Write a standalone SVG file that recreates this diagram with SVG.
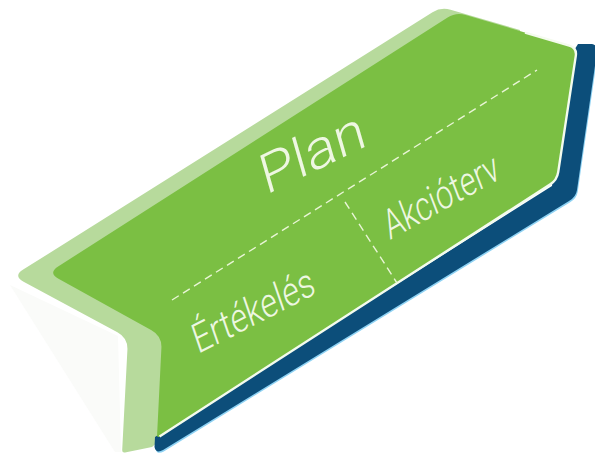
<svg xmlns="http://www.w3.org/2000/svg" width="595" height="455" viewBox="0 0 595 455">
  <style>
    .lbl { font-family: Roboto, "Liberation Sans", Arial, sans-serif; font-weight: 300; fill: #eef7e2; }
    .dash { fill: none; stroke: #e9f5d6; stroke-width: 1.4; stroke-dasharray: 8 5; }
  </style>
  <rect width="595" height="455" fill="#ffffff"/>
  <g id="shadow">
    <path d="M 10,285 L 118,336 L 121,452 L 115,452 Z" fill="#fafbf9"/>
  </g>
  <g id="back-light">
    <path d="M 23.2,269.6 L 432.5,12.3 Q 441,7 450.6,9.8 L 520,30 L 500,200 L 160,440 L 152,447 L 125,452.5 Q 122,453 122.2,450 L 127.4,350 Q 128,338 117.4,332.3 L 23.6,281.7 Q 13,276 23.2,269.6 Z" fill="#b7da9c"/>
  </g>
  <g id="navy-band">
    <path transform="translate(0.8,1.4)" d="M 568,60 L 578,44 L 592,44 Q 598,45 597,52 L 577,190 Q 576,197 569,201 L 163,450 Q 156,454 154.5,447 L 155,437 L 552,186 Z" fill="#8fd2f3"/>
    <path d="M 568,60 L 578,44 L 592,44 Q 598,45 597,52 L 577,190 Q 576,197 569,201 L 163,450 Q 156,454 154.5,447 L 155,437 L 552,186 Z" fill="#0c4e7a"/>
  </g>
  <g id="arrow">
    <path d="M 58.1,266.5 L 447.6,17.4 Q 456,12 465.6,14.9 L 569.3,45.7 Q 577,48 575.8,55.9 L 558.2,172.1 Q 557,180 550.3,184.3 L 159.5,436.4 Q 157,438 157.1,435 L 161.4,348 Q 162,336 151.5,330.2 L 58.5,278.8 Q 48,273 58.1,266.5 Z" fill="#7bbf43"/>
    <path d="M 525,32.6 L 569.3,45.7 Q 577,48 575.8,55.9 L 558.2,172.1 Q 557,180 550.3,184.3 L 159.5,436.4" fill="none" stroke="#f4fbee" stroke-width="2.4" stroke-linejoin="round"/>
  </g>
  <g id="connectors">
    <line class="dash" x1="172" y1="300" x2="537" y2="70"/>
    <line class="dash" x1="345" y1="202" x2="397" y2="283"/>
  </g>
  <g id="node-plan">
    <text class="lbl" font-size="53" textLength="114" lengthAdjust="spacingAndGlyphs" transform="translate(266,195) rotate(-26) skewX(-10)">Plan</text>
  </g>
  <g id="node-akcioterv">
    <text class="lbl" font-size="40" textLength="128" lengthAdjust="spacingAndGlyphs" transform="translate(390,240) rotate(-29) skewX(-8)">Akcióterv</text>
  </g>
  <g id="node-ertekeles">
    <text class="lbl" font-size="40" textLength="134" lengthAdjust="spacingAndGlyphs" transform="translate(198,354) rotate(-27) skewX(-8)">Értékelés</text>
  </g>
</svg>
